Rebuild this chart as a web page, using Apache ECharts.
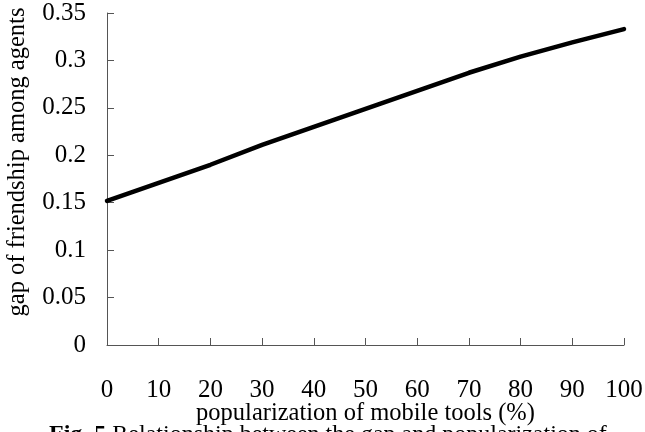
<!DOCTYPE html>
<html>
<head>
<meta charset="utf-8">
<script src="https://cdn.jsdelivr.net/npm/echarts@6/dist/echarts.min.js"></script>
<style>
  html, body { margin: 0; padding: 0; background: #fff; }
  #chart { width: 645px; height: 432px; }
</style>
</head>
<body>
<div id="chart"></div>
<script>
// popularization of mobile tools (%)
const popularization = [0, 10, 20, 30, 40, 50, 60, 70, 80, 90, 100]
// gap of friendship among agents
const friendshipGap = [0.152, 0.171, 0.190, 0.211, 0.230, 0.249, 0.268, 0.287, 0.304, 0.319, 0.333]

const fontFamily = 'Liberation Serif'
const axisColor = '#555'

const chart = echarts.init(document.getElementById('chart'), null, { renderer: 'canvas' })

chart.setOption({
  backgroundColor: '#fff',
  animation: false,
  grid: {
    left: 107,
    right: 21,
    top: 13,
    bottom: 87,
    outerBoundsMode: 'none',
  },
  xAxis: {
    type: 'value',
    min: 0,
    max: 100,
    interval: 10,
    name: 'popularization of mobile tools (%)',
    nameLocation: 'middle',
    nameGap: 56,
    nameMoveOverlap: false,
    nameTextStyle: { fontFamily, fontSize: 24.5, color: '#000' },
    axisLine: { lineStyle: { color: axisColor, width: 1 } },
    axisTick: { inside: true, length: 7, lineStyle: { color: axisColor } },
    axisLabel: { margin: 33, fontFamily, fontSize: 25, color: '#000' },
    splitLine: { show: false },
  },
  yAxis: {
    type: 'value',
    min: 0,
    max: 0.35,
    interval: 0.05,
    name: 'gap of friendship among agents',
    nameLocation: 'middle',
    nameGap: 77,
    nameMoveOverlap: false,
    nameTextStyle: { fontFamily, fontSize: 24.5, color: '#000', padding: [0, 0, 0, 34] },
    axisLine: { show: true, lineStyle: { color: axisColor, width: 1 } },
    axisTick: { show: true, inside: true, length: 7, lineStyle: { color: axisColor } },
    axisLabel: { margin: 21, fontFamily, fontSize: 25, color: '#000' },
    splitLine: { show: false },
  },
  graphic: [
    {
      type: 'text',
      left: 49,
      top: 423,
      style: {
        text: '{b|Fig. 5} Relationship between the gap and popularization of',
        rich: {
          b: { fontFamily, fontSize: 24, fontWeight: 'bold', fill: '#000' },
        },
        fontFamily,
        fontSize: 24,
        fill: '#000',
      },
    },
  ],
  series: [
    {
      type: 'line',
      data: popularization.map((x, i) => [x, friendshipGap[i]]),
      showSymbol: false,
      lineStyle: { color: '#000', width: 4.5, cap: 'round', join: 'round' },
    },
  ],
})
</script>
</body>
</html>
